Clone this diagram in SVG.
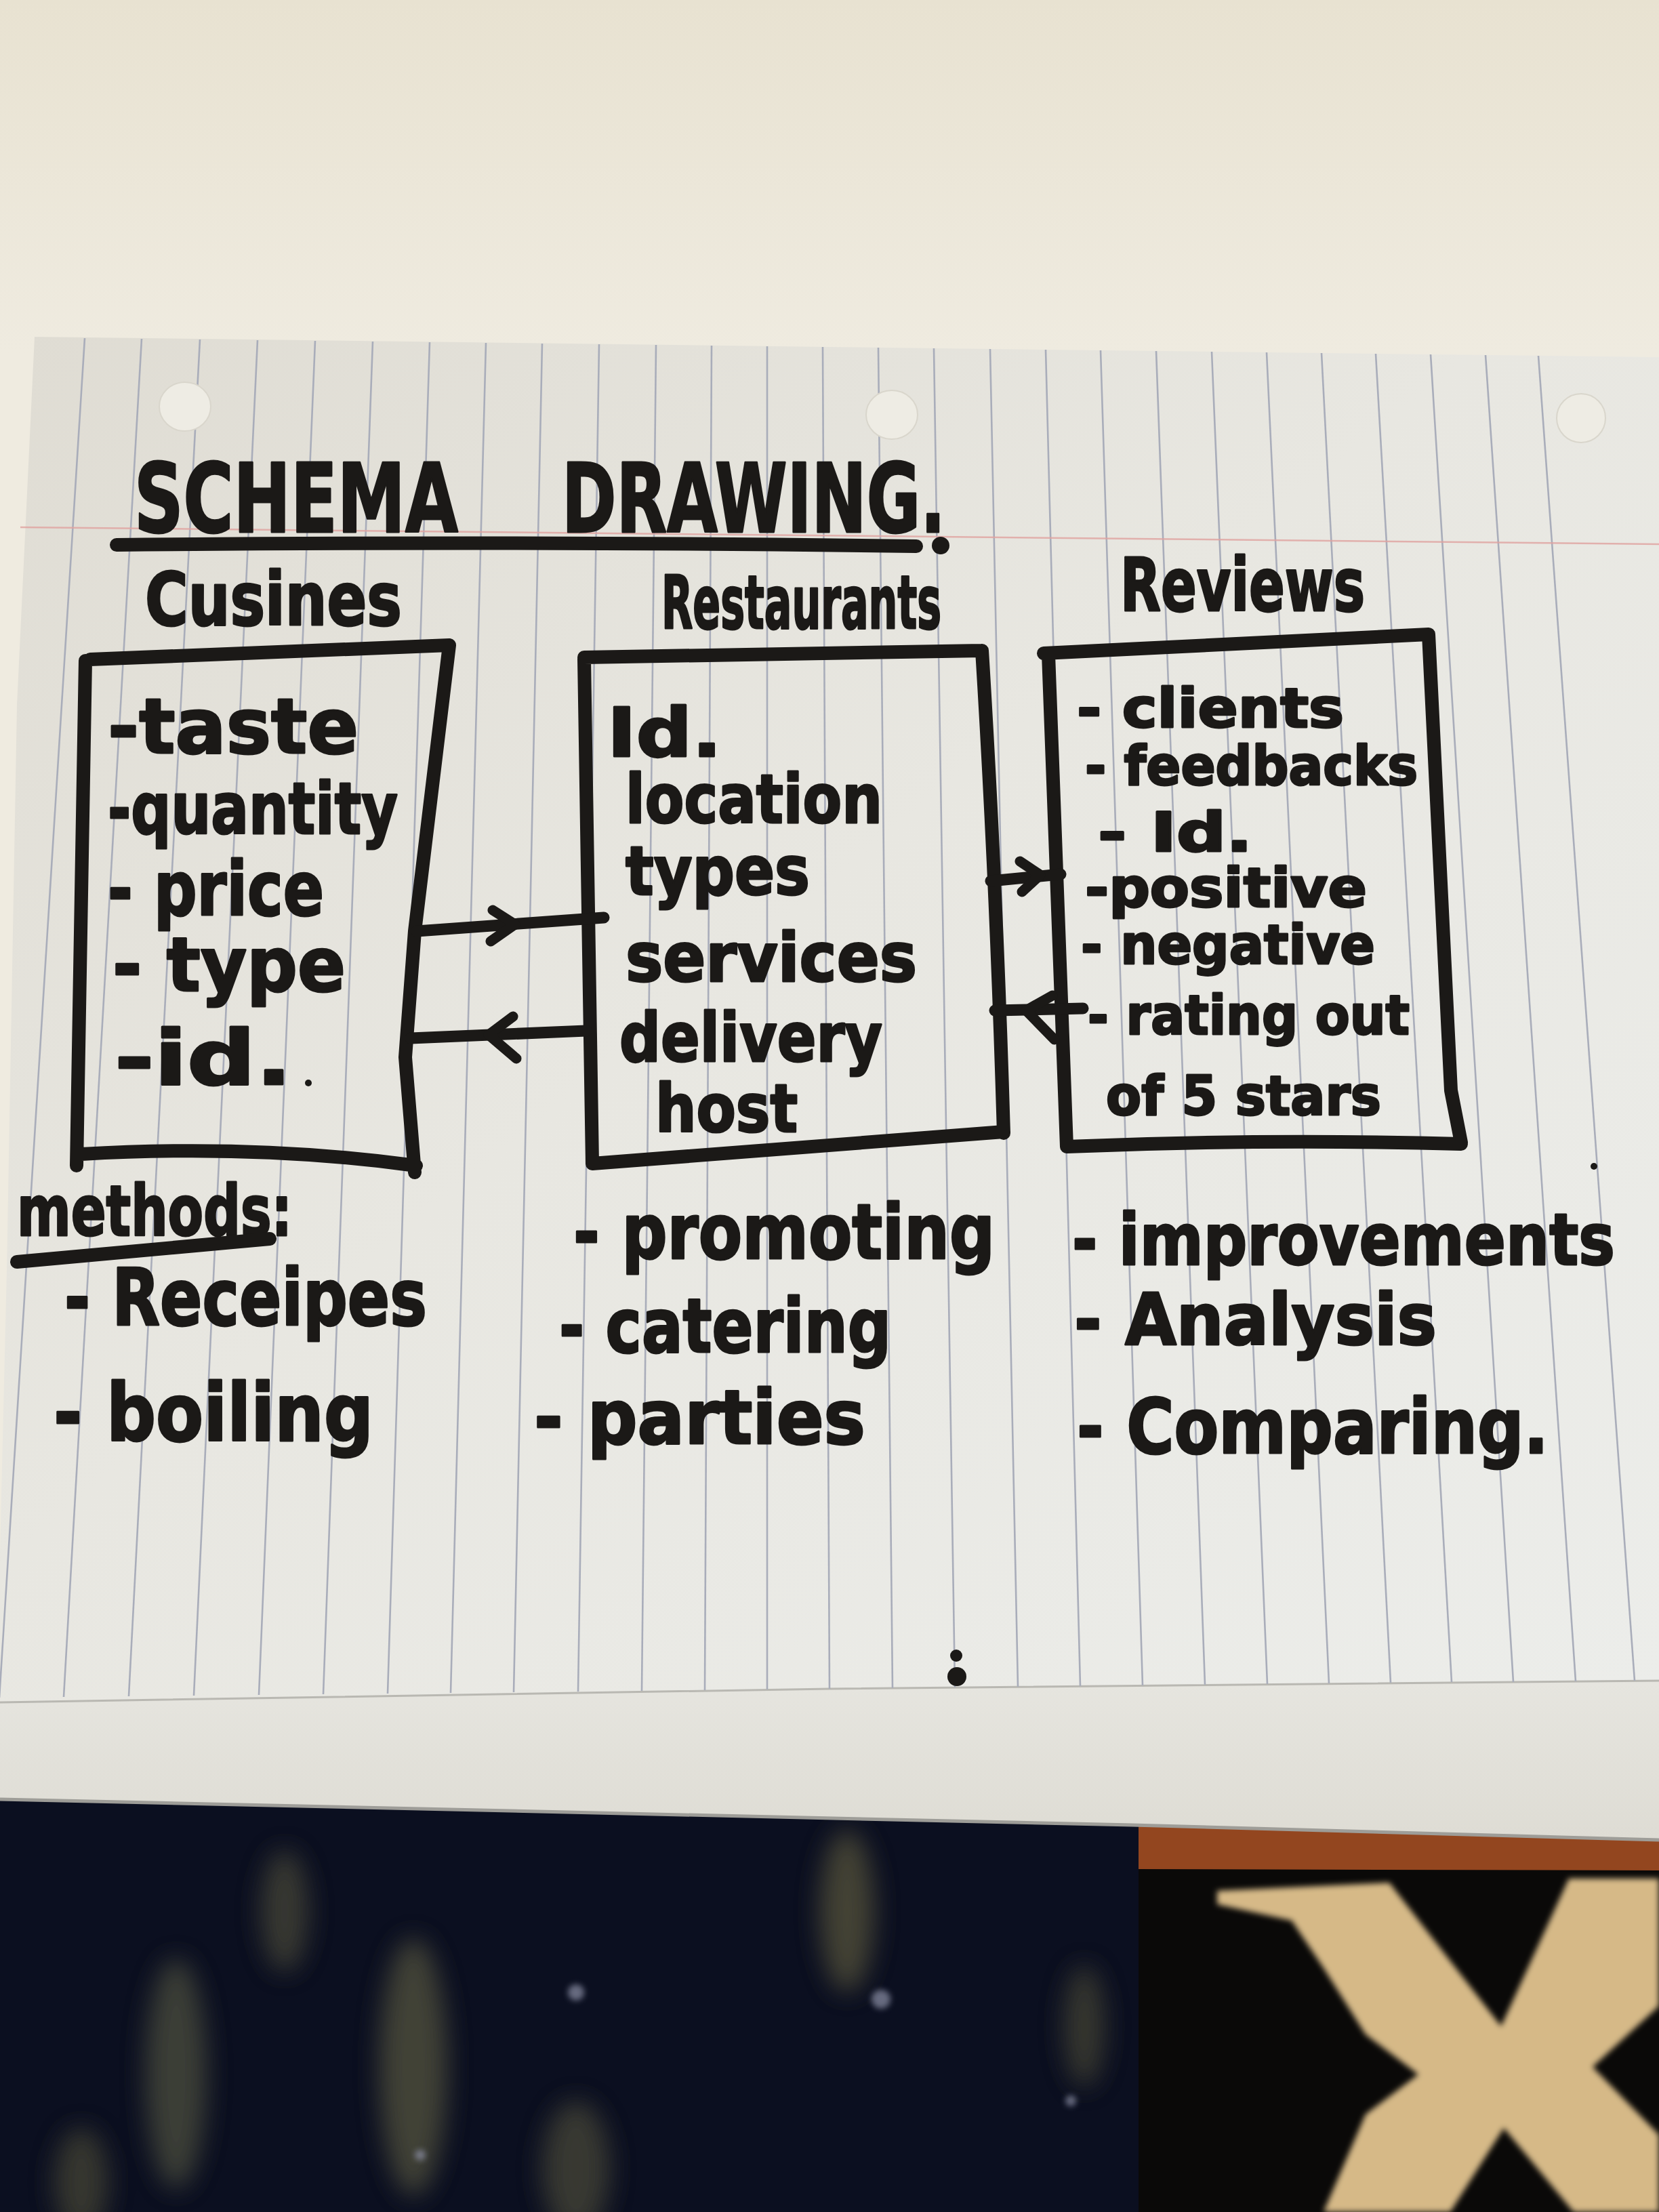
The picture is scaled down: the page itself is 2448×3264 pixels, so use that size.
<svg xmlns="http://www.w3.org/2000/svg" width="2448" height="3264" viewBox="0 0 2448 3264">
<style>
.ink{fill:none;stroke:#1b1917;stroke-linecap:round;stroke-linejoin:round}
.box{stroke-width:20}
.con{stroke-width:17}
.head{stroke-width:15}
.rule{stroke:#a9adba;stroke-width:2.6}
.t{font-family:"DejaVu Sans","Liberation Sans",sans-serif;font-weight:bold;fill:#1b1917;stroke:#1b1917;stroke-width:3;stroke-linejoin:round}
.blot{fill:#1b1917}
</style>
<defs>
<linearGradient id="wall" x1="0" y1="0" x2="0" y2="1">
<stop offset="0" stop-color="#e8e2d1"/>
<stop offset="0.16" stop-color="#efebe0"/>
<stop offset="1" stop-color="#efebe0"/>
</linearGradient>
<linearGradient id="paper" x1="0" y1="0" x2="1" y2="1">
<stop offset="0" stop-color="#dfdcd3"/>
<stop offset="0.45" stop-color="#e8e7e1"/>
<stop offset="1" stop-color="#ecedea"/>
</linearGradient>
<linearGradient id="band" x1="0" y1="0" x2="0" y2="1">
<stop offset="0" stop-color="#e6e5df"/>
<stop offset="1" stop-color="#dedcd4"/>
</linearGradient>
<filter id="blur" x="-50%" y="-50%" width="200%" height="200%"><feGaussianBlur stdDeviation="18"/></filter>
<filter id="soft" x="-50%" y="-50%" width="200%" height="200%"><feGaussianBlur stdDeviation="4"/></filter>
</defs>

<!-- background wall -->
<rect x="0" y="0" width="2448" height="3264" fill="url(#wall)"/>

<!-- carpet & floor -->
<g id="floor">
<rect x="0" y="2600" width="1690" height="664" fill="#0b0f20"/>
<rect x="1680" y="2600" width="768" height="664" fill="#0a0908"/>
<polygon points="1680,2660 2448,2680 2448,2760 1680,2758" fill="#93461f"/>
<polygon points="1796,2790 2050,2778 2215,2990 2315,2772 2448,2772 2448,2960 2350,3050 2448,3150 2448,3264 2322,3264 2219,3140 2140,3264 1953,3264 2015,3120 2093,3061 2015,3002 1953,2904 1906,2834 1796,2810" fill="#d6b987" filter="url(#soft)"/>
<g filter="url(#blur)" opacity="0.85">
<ellipse cx="260" cy="3060" rx="45" ry="170" fill="#45463a"/>
<ellipse cx="610" cy="3050" rx="50" ry="190" fill="#4b4b3b"/>
<ellipse cx="1250" cy="2820" rx="40" ry="120" fill="#4e4c38"/>
<ellipse cx="850" cy="3200" rx="50" ry="100" fill="#3f4034"/>
<ellipse cx="1600" cy="2990" rx="30" ry="90" fill="#3e3d33"/>
<ellipse cx="120" cy="3220" rx="40" ry="80" fill="#3d3e33"/>
<ellipse cx="420" cy="2820" rx="35" ry="90" fill="#3f4034"/>
</g>
<g fill="#8e92a8" opacity="0.7" filter="url(#soft)">
<circle cx="850" cy="2940" r="12"/>
<circle cx="1300" cy="2950" r="14"/>
<circle cx="1580" cy="3100" r="8"/>
<circle cx="620" cy="3180" r="8"/>
</g>
</g>

<!-- paper -->
<g id="paper-sheet">
<polygon points="0,2512 1224,2492 2448,2480 2448,2715 1671,2693 0,2655" fill="url(#band)"/>
<polyline points="0,2655 1671,2693 2448,2715" fill="none" stroke="#9e9d98" stroke-width="5"/>
<polygon points="51,497 1224,512 2448,527 2448,2480 1224,2492 0,2512 0,2290 10,1873 25,1040" fill="url(#paper)"/>
<polyline points="0,2512 1224,2492 2448,2480" fill="none" stroke="#b9b8b2" stroke-width="3"/>
<g id="rules" class="rule">
<line x1="125" y1="499" x2="-1" y2="2505"/>
<line x1="209" y1="500" x2="94" y2="2504"/>
<line x1="295" y1="501" x2="190" y2="2503"/>
<line x1="380" y1="502" x2="286" y2="2502"/>
<line x1="465" y1="503" x2="382" y2="2501"/>
<line x1="550" y1="504" x2="477" y2="2500"/>
<line x1="634" y1="505" x2="572" y2="2499"/>
<line x1="717" y1="506" x2="665" y2="2498"/>
<line x1="800" y1="507" x2="758" y2="2497"/>
<line x1="884" y1="508" x2="853" y2="2496"/>
<line x1="968" y1="509" x2="947" y2="2495"/>
<line x1="1050" y1="510" x2="1040" y2="2494"/>
<line x1="1132" y1="511" x2="1132" y2="2493"/>
<line x1="1214" y1="512" x2="1224" y2="2492"/>
<line x1="1296" y1="513" x2="1317" y2="2491"/>
<line x1="1378" y1="514" x2="1409" y2="2490"/>
<line x1="1461" y1="515" x2="1502" y2="2489"/>
<line x1="1543" y1="516" x2="1594" y2="2488"/>
<line x1="1624" y1="517" x2="1686" y2="2487"/>
<line x1="1706" y1="518" x2="1778" y2="2486"/>
<line x1="1788" y1="519" x2="1870" y2="2485"/>
<line x1="1869" y1="520" x2="1961" y2="2484"/>
<line x1="1950" y1="521" x2="2052" y2="2483"/>
<line x1="2030" y1="522" x2="2142" y2="2482"/>
<line x1="2111" y1="523" x2="2233" y2="2482"/>
<line x1="2192" y1="524" x2="2325" y2="2481"/>
<line x1="2270" y1="525" x2="2412" y2="2480"/>
</g>
<line x1="30" y1="778" x2="2448" y2="803" stroke="#e0a3a0" stroke-width="2.5" opacity="0.8"/>
<g fill="#eeece4" stroke="#d9d6cc" stroke-width="2">
<ellipse cx="273" cy="600" rx="38" ry="36"/>
<ellipse cx="1316" cy="612" rx="38" ry="36"/>
<ellipse cx="2333" cy="617" rx="36" ry="36"/>
</g>
</g>

<!-- title -->
<g id="title">
<text class="t" x="198" y="785" font-size="140" textLength="478" lengthAdjust="spacingAndGlyphs">SCHEMA</text>
<text class="t" x="829" y="785" font-size="140" textLength="566" lengthAdjust="spacingAndGlyphs">DRAWING.</text>
<path class="ink" stroke-width="20" d="M172,804 Q800,798 1352,806"/>
<circle class="blot" cx="1388" cy="805" r="13"/>
</g>

<!-- Cusines -->
<g id="cusines">
<text class="t" x="214" y="922" font-size="108" textLength="379" lengthAdjust="spacingAndGlyphs">Cusines</text>
<path class="ink box" d="M133,973 L663,952 M663,952 L612,1374 L598,1560 L612,1730 M126,975 L113,1720 M120,1703 Q380,1688 614,1720"/>
<text class="t" x="159" y="1111" font-size="112" textLength="370" lengthAdjust="spacingAndGlyphs">-taste</text>
<text class="t" x="159" y="1230" font-size="106" textLength="428" lengthAdjust="spacingAndGlyphs">-quantity</text>
<text class="t" x="159" y="1350" font-size="110" textLength="319" lengthAdjust="spacingAndGlyphs">- price</text>
<text class="t" x="166" y="1462" font-size="110" textLength="344" lengthAdjust="spacingAndGlyphs">- type</text>
<text class="t" x="169" y="1600" font-size="112" textLength="262" lengthAdjust="spacingAndGlyphs">-id.</text>
<circle class="blot" cx="455" cy="1598" r="5"/>
</g>

<!-- Restaurants -->
<g id="restaurants">
<text class="t" x="976" y="927" font-size="108" textLength="413" lengthAdjust="spacingAndGlyphs">Restaurants</text>
<path class="ink box" d="M862,970 L1449,960 M1449,960 Q1470,1300 1481,1672 M862,972 L874,1717 M874,1717 L1481,1670"/>
<text class="t" x="896" y="1116" font-size="100" textLength="169" lengthAdjust="spacingAndGlyphs">Id.</text>
<text class="t" x="923" y="1214" font-size="100" textLength="379" lengthAdjust="spacingAndGlyphs">location</text>
<text class="t" x="923" y="1320" font-size="100" textLength="272" lengthAdjust="spacingAndGlyphs">types</text>
<text class="t" x="923" y="1448" font-size="100" textLength="430" lengthAdjust="spacingAndGlyphs">services</text>
<text class="t" x="914" y="1566" font-size="100" textLength="388" lengthAdjust="spacingAndGlyphs">delivery</text>
<text class="t" x="967" y="1670" font-size="98" textLength="210" lengthAdjust="spacingAndGlyphs">host</text>
</g>

<!-- Reviews -->
<g id="reviews">
<text class="t" x="1653" y="901" font-size="108" textLength="361" lengthAdjust="spacingAndGlyphs">Reviews</text>
<path class="ink box" d="M1540,964 L2108,936 M2108,936 L2141,1609 L2156,1686 M1547,965 L1574,1692 M1574,1692 Q1860,1680 2156,1688"/>
<text class="t" x="1589" y="1073" font-size="80" textLength="394" lengthAdjust="spacingAndGlyphs">- clients</text>
<text class="t" x="1601" y="1158" font-size="80" textLength="491" lengthAdjust="spacingAndGlyphs">- feedbacks</text>
<text class="t" x="1620" y="1256" font-size="80" textLength="228" lengthAdjust="spacingAndGlyphs">- Id.</text>
<text class="t" x="1601" y="1338" font-size="80" textLength="416" lengthAdjust="spacingAndGlyphs">-positive</text>
<text class="t" x="1595" y="1422" font-size="80" textLength="434" lengthAdjust="spacingAndGlyphs">- negative</text>
<text class="t" x="1605" y="1526" font-size="80" textLength="475" lengthAdjust="spacingAndGlyphs">- rating out</text>
<text class="t" x="1632" y="1645" font-size="80" textLength="406" lengthAdjust="spacingAndGlyphs">of 5 stars</text>
</g>

<!-- connectors -->
<g id="connectors">
<path class="ink con" d="M615,1374 L891,1354"/>
<polyline class="ink head" points="727,1343 760,1364 724,1389"/>
<path class="ink con" d="M606,1532 L865,1521"/>
<polyline class="ink head" points="757,1500 721,1527 762,1562"/>
<path class="ink con" d="M1462,1300 L1565,1290"/>
<polyline class="ink head" points="1505,1271 1535,1291 1508,1316"/>
<path class="ink con" d="M1468,1491 L1598,1488"/>
<polyline class="ink head" points="1553,1469 1514,1491 1556,1534"/>
</g>

<!-- methods -->
<g id="methods">
<text class="t" x="25" y="1823" font-size="104" textLength="406" lengthAdjust="spacingAndGlyphs">methods:</text>
<path class="ink" stroke-width="20" d="M25,1862 L398,1828"/>
<text class="t" x="95" y="1955" font-size="116" textLength="535" lengthAdjust="spacingAndGlyphs">- Receipes</text>
<text class="t" x="79" y="2126" font-size="118" textLength="472" lengthAdjust="spacingAndGlyphs">- boiling</text>
</g>

<g id="restaurant-methods">
<text class="t" x="846" y="1857" font-size="112" textLength="622" lengthAdjust="spacingAndGlyphs">- promoting</text>
<text class="t" x="825" y="1995" font-size="110" textLength="490" lengthAdjust="spacingAndGlyphs">- catering</text>
<text class="t" x="788" y="2130" font-size="110" textLength="489" lengthAdjust="spacingAndGlyphs">- parties</text>
</g>

<g id="review-methods">
<text class="t" x="1582" y="1866" font-size="106" textLength="801" lengthAdjust="spacingAndGlyphs">- improvements</text>
<text class="t" x="1585" y="1984" font-size="106" textLength="535" lengthAdjust="spacingAndGlyphs">- Analysis</text>
<text class="t" x="1589" y="2144" font-size="112" textLength="696" lengthAdjust="spacingAndGlyphs">- Comparing.</text>
</g>

<!-- ink spots -->
<g id="spots" class="blot">
<circle cx="1411" cy="2443" r="9"/>
<circle cx="1412" cy="2474" r="14"/>
<circle cx="2352" cy="1721" r="5"/>
</g>
</svg>
